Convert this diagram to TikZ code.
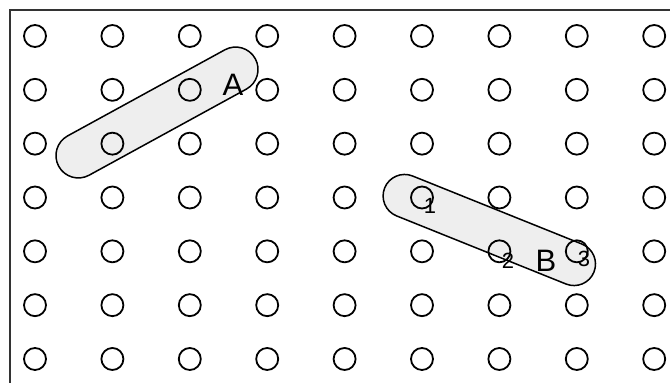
\documentclass[tikz,border=0pt]{standalone}
\usepackage{fontspec}
\setmainfont{Liberation Sans}
\definecolor{capfill}{HTML}{EEEEEE}
\definecolor{framec}{HTML}{333333}
\tikzset{
  peg/.style={circle, draw=black, line width=1.8pt, minimum size=22pt, inner sep=0pt},
  capsule/.style={draw=black, fill=capfill, line width=1.5pt, rectangle, inner sep=0pt},
  biglabel/.style={font=\fontsize{31}{36}\selectfont, inner sep=0pt},
  numlabel/.style={font=\fontsize{22}{26}\selectfont, inner sep=0pt}
}
\begin{document}
\begin{tikzpicture}[x=1pt, y=-1pt]
\useasboundingbox (0,0) rectangle (670,383);
\clip (0,0) rectangle (670,383);
\draw[framec, line width=2pt] (10,10) rectangle (700,420);
% capsules
\node[capsule, rounded corners=22.4pt, minimum width=224.1pt, minimum height=44.8pt, rotate=28.7] (capA) at (157,112.5) {};
\node[capsule, rounded corners=21.5pt, minimum width=225.6pt, minimum height=43pt, rotate=-21.9] (capB) at (489.3,230) {};
% pegs
\foreach \i in {0,...,8} {
  \foreach \j in {0,...,6} {
    \node[peg] (c-\i-\j) at ({35+77.4*\i},{36+53.83*\j}) {};
  }
}
% labels
\node[biglabel] (labA) at (233,85) {A};
\node[biglabel] (labB) at (546,261) {B};
\node[numlabel] (n1) at (430,206) {1};
\node[numlabel] (n2) at (508,261) {2};
\node[numlabel] (n3) at (584,259) {3};
\end{tikzpicture}
\end{document}
